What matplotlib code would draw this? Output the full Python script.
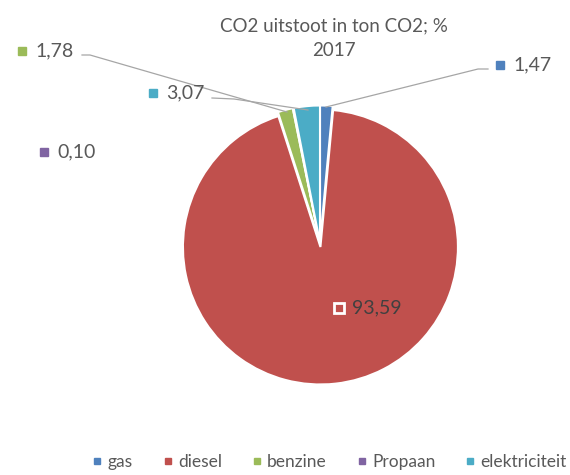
import matplotlib.pyplot as plt
from matplotlib.lines import Line2D

categories = ["gas", "diesel", "benzine", "Propaan", "elektriciteit"]
values = [1.47, 93.59, 1.78, 0.10, 3.07]
value_labels = ["1,47", "93,59", "1,78", "0,10", "3,07"]
colors = ["#4f81bd", "#c0504d", "#9bbb59", "#8064a2", "#4bacc6"]

plt.rcParams["font.family"] = ["Lato", "DejaVu Sans"]
text_col = "#595959"

W, H = 570, 475
fig = plt.figure(figsize=(W / 100, H / 100), dpi=100)
ax = fig.add_axes([0, 0, 1, 1])

cx, cy, r = 320, H - 243, 137.5
# explode offsets are in data units (pixels here)
explode = [0, 4, 0, 0, 0]
wedges, _ = ax.pie(values, colors=colors, startangle=90, counterclock=False,
                   center=(cx, cy), radius=r, explode=explode,
                   wedgeprops=dict(edgecolor="white", linewidth=1.5))
ax.set_xlim(0, W)
ax.set_ylim(0, H)
ax.set_aspect("equal")
ax.axis("off")

ax.text(334, H - 38, "CO2 uitstoot in ton CO2; %\n2017", ha="center", va="center",
        fontsize=13.5, color=text_col, linespacing=1.5)

# label positions (marker x, y) and leader line points
label_pos = {
    0: (500, 65),
    1: (339, 308),
    2: (22, 51),
    3: (44, 152),
    4: (153, 93),
}
leaders = {
    0: [(488, 69), (478, 69), (326, 107)],
    2: [(82, 55), (90, 55), (287, 112)],
    4: [(212, 98), (234, 99), (308, 110)],
}
for i, (mx, my) in label_pos.items():
    if i == 1:
        ax.plot(mx, H - my, marker="s", ms=7.5, mfc=colors[i], mec="white", mew=2)
    else:
        ax.plot(mx, H - my, marker="s", ms=6, color=colors[i])
    ax.text(mx + 13, H - my, value_labels[i], ha="left", va="center",
            fontsize=14, color="#404040" if i == 1 else text_col)
for i, pts in leaders.items():
    ax.plot([p[0] for p in pts], [H - p[1] for p in pts], color="#a6a6a6", lw=0.9)

handles = [Line2D([], [], marker="s", ls="", ms=5, color=c) for c in colors]
fig.legend(handles, categories, loc="center", bbox_to_anchor=(0.578, 1 - 462 / H),
           ncol=5, frameon=False, fontsize=12.5, handlelength=0.6, handletextpad=0.3,
           columnspacing=1.7, labelcolor=text_col)

fig.savefig("out.png", dpi=100)
